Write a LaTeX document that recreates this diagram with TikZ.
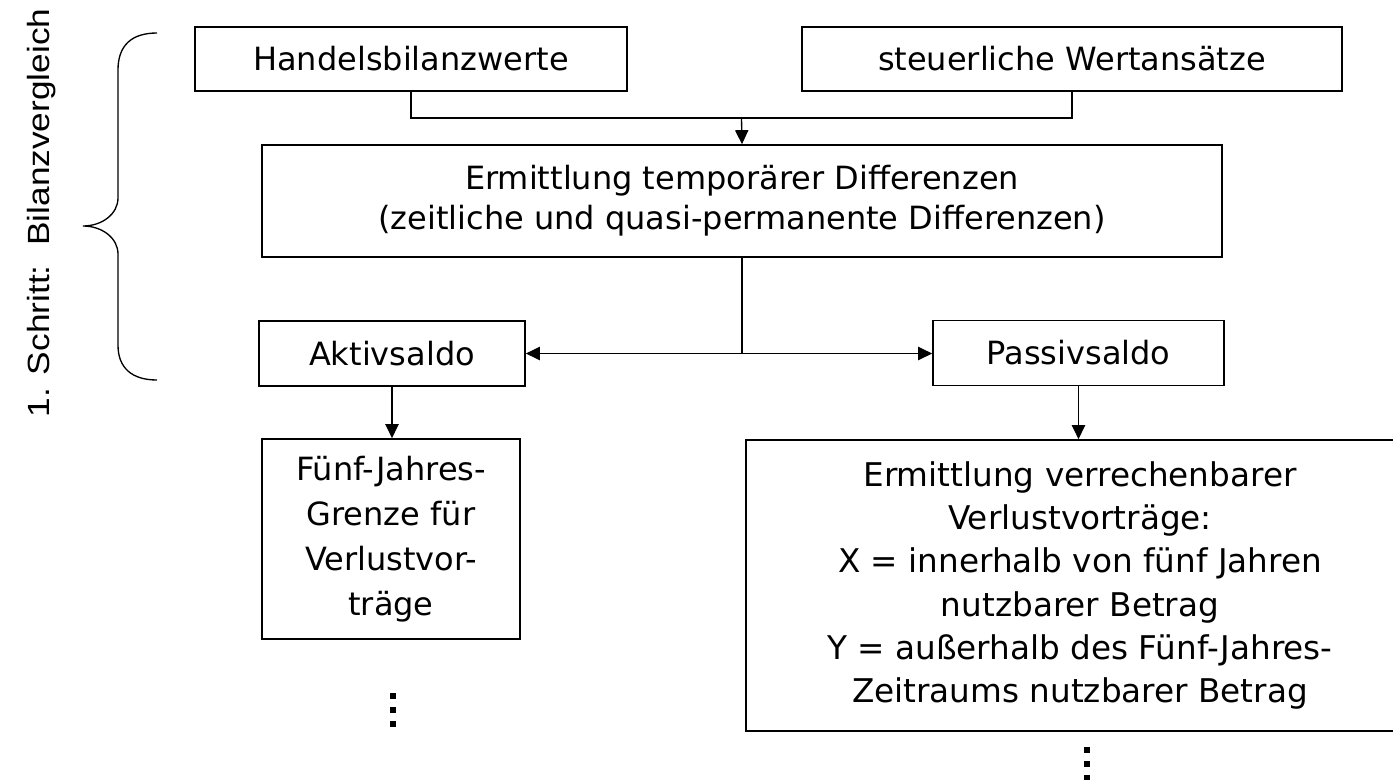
\documentclass[tikz,border=0pt]{standalone}
\usepackage{fontspec}
\setmainfont{DejaVu Sans}
\newfontfamily\arialf{Liberation Sans}
\usetikzlibrary{arrows.meta}
\tikzset{
  box/.style={draw, line width=1.3pt, inner sep=0pt, align=center, font=\fontsize{24}{30}\selectfont},
  conn/.style={line width=1pt},
  arr/.style={conn, -{Triangle[length=10.5pt,width=10pt]}},
}
\begin{document}
\begin{tikzpicture}[x=0.75pt,y=-0.75pt]
\useasboundingbox (0,0) rectangle (1393,779);
% boxes
\node[box, minimum width=324pt, minimum height=48pt] (H) at (411,59) {Handelsbilanzwerte};
\node[box, minimum width=405pt, minimum height=48pt] (S) at (1072,59) {steuerliche Wertansätze};
\node[box, minimum width=720pt, minimum height=84pt] (E) at (742,201)
  {Ermittlung temporärer Differenzen\\(zeitliche und quasi-permanente Differenzen)};
\node[box, minimum width=199.5pt, minimum height=48.75pt] (A) at (392,353.5) {Aktivsaldo};
\node[box, minimum width=218.25pt, minimum height=48.75pt] (P) at (1078.5,353) {Passivsaldo};
\node[box, minimum width=193.5pt, minimum height=150pt, font=\fontsize{24}{33.75}\selectfont] (F) at (391,539)
  {Fünf-Jahres-\\Grenze für\\Verlustvor-\\träge};
\node[box, minimum width=501pt, minimum height=218.25pt, font=\fontsize{24.5}{32.3}\selectfont] (B) at (1080,585.5)
  {Ermittlung verrechenbarer\\Verlustvorträge:\\X = innerhalb von fünf Jahren\\nutzbarer Betrag\\Y = außerhalb des Fünf-Jahres-\\Zeitraums nutzbarer Betrag};
% connectors
\coordinate (j) at (741.5,118);
\draw[conn] (H.south) |- (j) -| (S.south);
\draw[arr] (j) -- (E.north);
\coordinate (k) at (742,353.5);
\draw[conn] (E.south) -- (k);
\draw[arr] (k) -- (k -| A.east);
\draw[arr] (k) -- (k -| P.west);
\draw[arr] (A.south) -- (A.south |- F.north);
\draw[arr] (P.south) -- (P.south |- B.north);
% continuation dots
\foreach \yy in {693,707,721} \fill (390,\yy) rectangle (396,\yy+6);
\foreach \yy in {747,761,775} \fill (1084,\yy) rectangle (1090,\yy+6);
% brace
\draw[line width=1pt] (157,33) .. controls (132,33) and (118,45) .. (118,70) -- (118,198)
  .. controls (118,214) and (102,226) .. (83,226)
  .. controls (102,226) and (118,238) .. (118,254) -- (118,345)
  .. controls (118,368) and (132,380) .. (157,380);
\node[rotate=90, anchor=base, inner sep=0pt, font=\arialf\fontsize{23}{27}\selectfont] (L) at (50,213)
  {\scalebox{1.15}[1]{1. Schritt:\ \ Bilanzvergleich}};
\end{tikzpicture}
\end{document}
